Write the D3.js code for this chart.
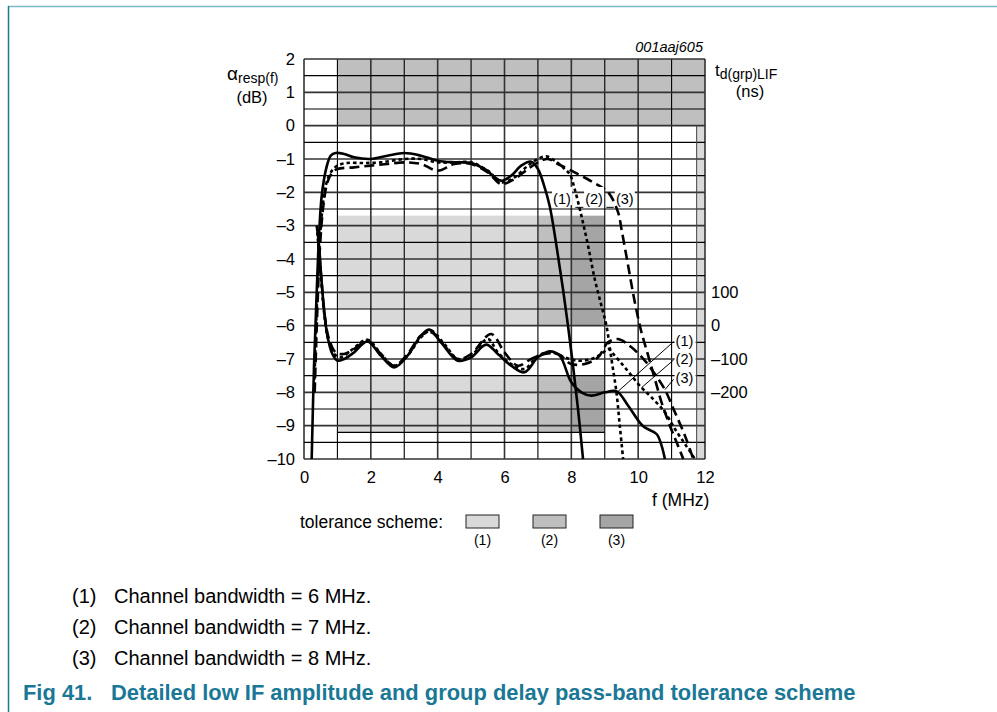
<!DOCTYPE html>
<html><head><meta charset="utf-8">
<script src="https://cdn.jsdelivr.net/npm/d3@7"></script>
<style>body{margin:0;background:#fff;} text{font-family:Arial,"Liberation Sans",sans-serif;}</style>
</head><body><svg id="c" width="997" height="712"></svg>
<script>
// ---- data ----
const xTicks = [0,2,4,6,8,10,12];
const yTicks = [2,1,0,-1,-2,-3,-4,-5,-6,-7,-8,-9,-10];
const gdTicks = [100,0,-100,-200];        // ns (0 ns at -6 dB line, 100 ns per dB division)
const footnotes = ["Channel bandwidth = 6 MHz.","Channel bandwidth = 7 MHz.","Channel bandwidth = 8 MHz."];
const schemeLabels = ["(1)","(2)","(3)"];

// amplitude (dB) curves: [MHz, dB]
const ampSolid = [[0.23,-10],[0.3,-7.2],[0.38,-5],[0.45,-3.3],[0.52,-2.2],[0.6,-1.6],[0.7,-1.15],[0.8,-0.9],[0.95,-0.82],[1.2,-0.85],[1.5,-0.95],[2,-1.0],[2.5,-0.9],[3,-0.82],[3.5,-0.9],[4,-1.05],[4.5,-1.1],[5,-1.12],[5.4,-1.3],[5.9,-1.65],[6.2,-1.5],[6.5,-1.2],[6.8,-1.08],[7.0,-1.3],[7.2,-1.85],[7.35,-2.4],[7.46,-3],[7.6,-3.9],[7.75,-4.9],[7.9,-6],[8.05,-7.2],[8.2,-8.5],[8.35,-10]];
const ampDotted = [[0.3,-8],[0.38,-5.5],[0.45,-3.8],[0.55,-2.5],[0.65,-1.8],[0.8,-1.4],[1.0,-1.2],[1.3,-1.12],[1.8,-1.12],[2.3,-1.1],[3,-1.0],[3.5,-1.0],[4,-1.1],[4.5,-1.1],[5,-1.1],[5.5,-1.35],[5.9,-1.7],[6.3,-1.55],[6.7,-1.2],[7.0,-1.0],[7.25,-0.92],[7.5,-1.05],[7.8,-1.3],[7.96,-1.47],[8.1,-1.9],[8.3,-2.7],[8.5,-3.6],[8.7,-4.6],[8.9,-5.4],[9.05,-6.0],[9.2,-7],[9.35,-8],[9.45,-9],[9.55,-10]];
const ampDashed = [[0.32,-8],[0.4,-5.5],[0.48,-3.6],[0.58,-2.4],[0.7,-1.7],[0.85,-1.4],[1.0,-1.3],[1.5,-1.25],[2,-1.2],[2.5,-1.15],[3,-1.1],[3.5,-1.15],[4,-1.35],[4.5,-1.15],[5,-1.15],[5.5,-1.4],[5.9,-1.75],[6.3,-1.6],[6.7,-1.3],[7.0,-1.1],[7.3,-1.0],[7.6,-1.15],[8.0,-1.35],[8.6,-1.67],[9.1,-2.0],[9.4,-2.6],[9.5,-3.1],[9.7,-4.2],[9.9,-5.3],[10.1,-6.2],[10.3,-6.9],[10.5,-7.6],[10.7,-8.3],[10.95,-9.0],[11.15,-9.5],[11.35,-10]];

// group delay curves, drawn on the dB grid: [MHz, grid value]
const gdSolid = [[0.38,-3.0],[0.45,-3.6],[0.52,-4.6],[0.6,-5.5],[0.7,-6.3],[0.85,-6.85],[1.0,-7.05],[1.2,-7.0],[1.5,-6.8],[1.9,-6.47],[2.3,-6.9],[2.7,-7.25],[3.1,-6.9],[3.5,-6.3],[3.75,-6.12],[4.1,-6.5],[4.6,-7.05],[5.0,-6.95],[5.45,-6.57],[5.8,-6.85],[6.2,-7.2],[6.6,-7.4],[7.0,-6.95],[7.35,-6.77],[7.65,-6.9],[8.0,-7.7],[8.3,-8.0],[8.6,-8.1],[9.0,-8.0],[9.36,-7.97],[9.7,-8.4],[10.15,-9.02],[10.55,-9.25],[10.7,-9.6],[10.8,-10]];
const gdDotted = [[0.4,-3.2],[0.5,-4.4],[0.6,-5.6],[0.72,-6.4],[0.9,-6.85],[1.1,-6.95],[1.4,-6.75],[1.9,-6.42],[2.3,-6.85],[2.7,-7.2],[3.1,-6.9],[3.5,-6.35],[3.8,-6.15],[4.2,-6.55],[4.6,-7.0],[5.0,-6.9],[5.5,-6.4],[5.8,-6.8],[6.2,-7.15],[6.6,-7.3],[7.0,-6.9],[7.4,-6.8],[7.8,-6.95],[8.2,-7.05],[8.6,-7.0],[8.9,-6.85],[9.1,-6.7],[9.3,-6.9],[9.6,-7.25],[10.1,-7.86],[10.4,-8.15],[10.8,-8.6],[11.1,-9.1],[11.4,-9.55],[11.7,-10]];
const gdDashed = [[0.42,-3.4],[0.52,-4.6],[0.62,-5.7],[0.75,-6.4],[0.95,-6.8],[1.2,-6.85],[1.5,-6.7],[1.9,-6.45],[2.3,-6.85],[2.7,-7.2],[3.1,-6.85],[3.5,-6.3],[3.8,-6.2],[4.2,-6.6],[4.6,-7.0],[5.0,-6.85],[5.6,-6.25],[6.0,-6.8],[6.4,-7.2],[6.8,-7.0],[7.2,-6.85],[7.6,-6.85],[8.0,-7.15],[8.4,-7.15],[8.8,-6.95],[9.1,-6.5],[9.4,-6.4],[9.8,-6.65],[10.2,-7.05],[10.5,-7.45],[10.8,-7.92],[11.1,-8.6],[11.4,-9.3],[11.65,-10]];

// tolerance regions [x0,x1,y0,y1,scheme]  (scheme 0 = light, 1 = medium, 2 = dark)
const regions = [
  [1,12,0,2,1],
  [1,2,-5.5,-2.7,0],[2,7,-6,-2.7,0],[7,8,-6,-2.7,1],[8,9,-6,-2.7,2],
  [1,7,-9.2,-7.5,0],[7,8,-9.2,-7.5,1],[8,9,-9.2,-7.5,2],
  [11.75,12,-10,0,0]
];
const schemeColors = ["#d9d9d9","#bfbfbf","#a5a5a5"];

// curve labels
const ampLabels = [{t:"(1)",x:7.72,y:-2.2},{t:"(2)",x:8.68,y:-2.2},{t:"(3)",x:9.6,y:-2.2}];
const ampLeaders = [[8.12,8.36,-2.45],[9.05,9.27,-2.45]];
const gdLabels = [{t:"(1)",x:11.12,y:-6.45,tx:9.4,ty:-7.97},{t:"(2)",x:11.12,y:-7.0,tx:10.1,ty:-7.86},{t:"(3)",x:11.12,y:-7.58,tx:10.8,ty:-7.92}];

// ---- drawing ----
const svg = d3.select("#c");
const x = d3.scaleLinear().domain([0,12]).range([304,705]);
const y = d3.scaleLinear().domain([-10,2]).range([459,59]);
const yGd = d3.scaleLinear().domain([-400,800]).range([459,59]);
const teal = "#1a7896";

// border
svg.append("line").attr("x1",8).attr("x2",997).attr("y1",6.5).attr("y2",6.5).attr("stroke","#7ab8ca").attr("stroke-width",1.5);
svg.append("line").attr("x1",8.5).attr("x2",8.5).attr("y1",6).attr("y2",712).attr("stroke",teal).attr("stroke-width",1.5);

// regions
svg.append("g").selectAll("rect").data(regions).join("rect")
  .attr("x",d=>x(d[0])).attr("width",d=>x(d[1])-x(d[0]))
  .attr("y",d=>y(d[3])).attr("height",d=>y(d[2])-y(d[3]))
  .attr("fill",d=>schemeColors[d[4]]);

// grid
const g = svg.append("g");
g.selectAll(".v").data(d3.range(0,13,1)).join("line")
  .attr("x1",d=>x(d)).attr("x2",d=>x(d)).attr("y1",y(2)).attr("y2",y(-10))
  .attr("stroke",d=>d%2===0?"#333":"#000").attr("stroke-width",d=>d%2===0?1.6:1.1);
g.selectAll(".h").data(d3.range(-10,2.01,0.5)).join("line")
  .attr("x1",x(0)).attr("x2",x(12)).attr("y1",d=>y(d)).attr("y2",d=>y(d))
  .attr("stroke",d=>Number.isInteger(d)?"#333":"#000").attr("stroke-width",d=>Number.isInteger(d)?1.6:1.1);
g.append("line").attr("x1",x(1)).attr("x2",x(9)).attr("y1",y(-9.2)).attr("y2",y(-9.2)).attr("stroke","#000").attr("stroke-width",1.1);
g.append("line").attr("x1",x(11.75)).attr("x2",x(11.75)).attr("y1",y(0)).attr("y2",y(-10)).attr("stroke","#444").attr("stroke-width",1);

// axes
const styleTicks = s => s.selectAll("text").attr("font-size",16.5).attr("fill","#000").style("font-family","Arial, 'Liberation Sans', sans-serif");
const yAxis = d3.axisLeft(y).tickValues(yTicks).tickSize(0).tickPadding(9).tickFormat(d=>d<0?"\u2013"+(-d):d);
svg.append("g").attr("transform",`translate(${x(0)},0)`).call(yAxis)
  .call(s=>s.select(".domain").remove()).call(styleTicks);
const xAxis = d3.axisBottom(x).tickValues(xTicks).tickSize(0).tickPadding(12);
svg.append("g").attr("transform",`translate(0,${y(-10)})`).call(xAxis)
  .call(s=>s.select(".domain").remove()).call(styleTicks);
const gdAxis = d3.axisRight(yGd).tickValues(gdTicks).tickSize(0).tickPadding(6).tickFormat(d=>d<0?"\u2013"+(-d):d);
svg.append("g").attr("transform",`translate(${x(12)},0)`).call(gdAxis)
  .call(s=>s.select(".domain").remove()).call(styleTicks);

// axis titles
const lt = svg.append("text").attr("x",227).attr("y",80).attr("font-size",19);
lt.append("tspan").text("\u03b1");
lt.append("tspan").attr("font-size",14).attr("dy",3).text("resp(f)");
svg.append("text").attr("x",252).attr("y",103).attr("font-size",16.5).attr("text-anchor","middle").text("(dB)");
const rt = svg.append("text").attr("x",715).attr("y",76).attr("font-size",17);
rt.append("tspan").text("t");
rt.append("tspan").attr("font-size",14).attr("dy",3).text("d(grp)LIF");
svg.append("text").attr("x",750).attr("y",97).attr("font-size",16.5).attr("text-anchor","middle").text("(ns)");
svg.append("text").attr("x",703).attr("y",52).attr("font-size",14.5).attr("font-style","italic").attr("text-anchor","end").text("001aaj605");
svg.append("text").attr("x",652).attr("y",506).attr("font-size",17.5).text("f (MHz)");

// curves
const line = d3.line().x(d=>x(d[0])).y(d=>y(d[1])).curve(d3.curveCatmullRom.alpha(0.5));
const curves = [
  [ampSolid,null],[ampDotted,"3.5,3"],[ampDashed,"10,5"],
  [gdSolid,null],[gdDotted,"3.5,3"],[gdDashed,"10,5"]
];
svg.append("g").selectAll("path").data(curves).join("path")
  .attr("d",d=>line(d[0])).attr("fill","none").attr("stroke","#000")
  .attr("stroke-width",2.6).attr("stroke-dasharray",d=>d[1]);

// amplitude labels
const al = svg.append("g");
al.selectAll("rect").data(ampLabels).join("rect")
  .attr("x",d=>x(d.x)-10).attr("y",d=>y(d.y)-12).attr("width",20).attr("height",18).attr("fill","#fff");
al.selectAll("text").data(ampLabels).join("text")
  .attr("x",d=>x(d.x)).attr("y",d=>y(d.y)+5).attr("font-size",14.5).attr("text-anchor","middle").text(d=>d.t);
al.selectAll("line").data(ampLeaders).join("line")
  .attr("x1",d=>x(d[0])).attr("x2",d=>x(d[1])).attr("y1",d=>y(d[2])).attr("y2",d=>y(d[2])).attr("stroke","#000").attr("stroke-width",1);

// group delay labels
const gl = svg.append("g");
gl.selectAll("rect").data(gdLabels).join("rect")
  .attr("x",d=>x(d.x)-1).attr("y",d=>y(d.y)-9).attr("width",21).attr("height",17).attr("fill","#fff");
gl.selectAll("text").data(gdLabels).join("text")
  .attr("x",d=>x(d.x)).attr("y",d=>y(d.y)+5).attr("font-size",14.5).text(d=>d.t);
gl.selectAll("line").data(gdLabels).join("line")
  .attr("x1",d=>x(d.x)-2).attr("y1",d=>y(d.y)+1).attr("x2",d=>x(d.tx)).attr("y2",d=>y(d.ty))
  .attr("stroke","#000").attr("stroke-width",1);

// legend
svg.append("text").attr("x",300).attr("y",528).attr("font-size",17.5).text("tolerance scheme:");
const lg = svg.append("g").selectAll("g").data(schemeLabels).join("g")
  .attr("transform",(d,i)=>`translate(${466+i*67},515)`);
lg.append("rect").attr("width",33).attr("height",13).attr("fill",(d,i)=>schemeColors[i]).attr("stroke","#222").attr("stroke-width",1);
lg.append("text").attr("x",16.5).attr("y",30).attr("font-size",14).attr("text-anchor","middle").text(d=>d);

// footnotes
const fn = svg.append("g").selectAll("g").data(footnotes).join("g")
  .attr("transform",(d,i)=>`translate(0,${603+i*31})`);
fn.append("text").attr("x",72).attr("font-size",20).text((d,i)=>`(${i+1})`);
fn.append("text").attr("x",114).attr("font-size",20).text(d=>d);

// caption
svg.append("text").attr("x",23).attr("y",700).attr("font-size",21.9).attr("font-weight","bold").attr("fill",teal).text("Fig 41.");
svg.append("text").attr("x",111).attr("y",700).attr("font-size",21.9).attr("font-weight","bold").attr("fill",teal).text("Detailed low IF amplitude and group delay pass-band tolerance scheme");
</script></body></html>
